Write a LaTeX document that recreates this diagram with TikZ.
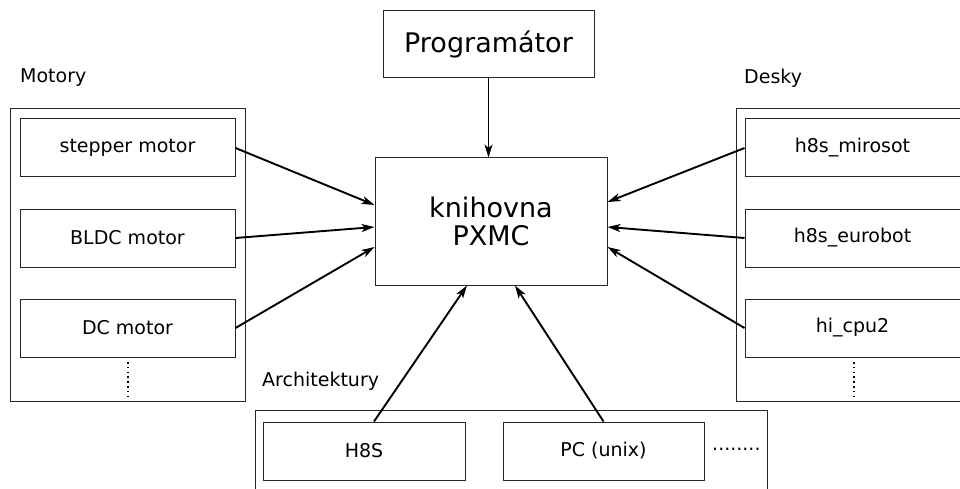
\documentclass[tikz,border=0pt]{standalone}
\usepackage{fontspec}
\setmainfont{DejaVu Sans}
\usetikzlibrary{arrows.meta, positioning}

\begin{document}
\begin{tikzpicture}[
      x=1pt, y=-1pt,
      box/.style={draw=black!85, line width=1pt, minimum width=215pt, minimum height=58pt,
        align=center, font=\fontsize{19}{22}\selectfont, inner sep=0pt},
      group/.style={draw=black!85, line width=1pt, inner sep=0pt},
      caption/.style={font=\fontsize{19}{22}\selectfont, anchor=west, inner sep=0pt},
      link/.style={-{Stealth[length=13pt, width=8pt, inset=3.5pt]}, line width=1.9pt},
      node distance=31pt
    ]
    \useasboundingbox (0,0) rectangle (960,489);
    \clip (0,0) rectangle (960,489);

    % group frames
    \node[group, minimum width=235pt, minimum height=292pt] (motory) at (127.5,255) {};
    \node[group, minimum width=235pt, minimum height=292pt] (desky) at (853.5,255) {};
    \node[group, minimum width=512pt, minimum height=90pt] (arch) at (511,455) {};
    \node[caption] (lmotory) at (20,78) {Motory};
    \node[caption] (ldesky) at (744,78) {Desky};
    \node[caption] (larch) at (262,381) {Architektury};

    % center
    \node[box, minimum width=211pt, minimum height=67pt, font=\fontsize{27}{30}\selectfont] (prog) at (488.5,44.5) {Programátor};
    \node[box, minimum width=232pt, minimum height=127pt, font=\fontsize{27}{28}\selectfont] (lib) at (491,221.5) {knihovna\\PXMC};

    % motors
    \node[box] (stepper) at (127.5,148) {stepper motor};
    \node[box, below=of stepper] (bldc) {BLDC motor};
    \node[box, below=of bldc] (dc) {DC motor};

    % boards
    \node[box] (mirosot) at (852.5,148) {h8s\_mirosot};
    \node[box, below=of mirosot] (eurobot) {h8s\_eurobot};
    \node[box, below=of eurobot] (hicpu) {hi\_cpu2};

    % architectures
    \node[box, minimum width=202pt] (h8s) at (364,451) {H8S};
    \node[box, minimum width=201pt, right=37pt of h8s] (pc) {PC (unix)};
    \node[caption] (more) at (712,449) {........};

    \draw[line width=1.8pt, dash pattern=on 1.6pt off 3.2pt] (128,362) -- (128,398);
    \draw[line width=1.8pt, dash pattern=on 1.6pt off 3.2pt] (854,362) -- (854,398);

    \draw[link] (prog.south) -- (prog.south |- lib.north);
    \draw[link] (stepper.east) -- ([yshift=16.5pt]lib.west);
    \draw[link] (bldc.east) -- ([yshift=-5.5pt]lib.west);
    \draw[link] (dc.east) -- ([yshift=-25.5pt]lib.west);
    \draw[link] (mirosot.west) -- ([yshift=19.5pt]lib.east);
    \draw[link] (eurobot.west) -- ([yshift=-5.5pt]lib.east);
    \draw[link] (hicpu.west) -- ([yshift=-25.5pt]lib.east);
    \draw[link] ([xshift=10pt]h8s.north) -- ([xshift=-24pt]lib.south);
    \draw[link] (pc.north) -- ([xshift=24pt]lib.south);
  \end{tikzpicture}
\end{document}
